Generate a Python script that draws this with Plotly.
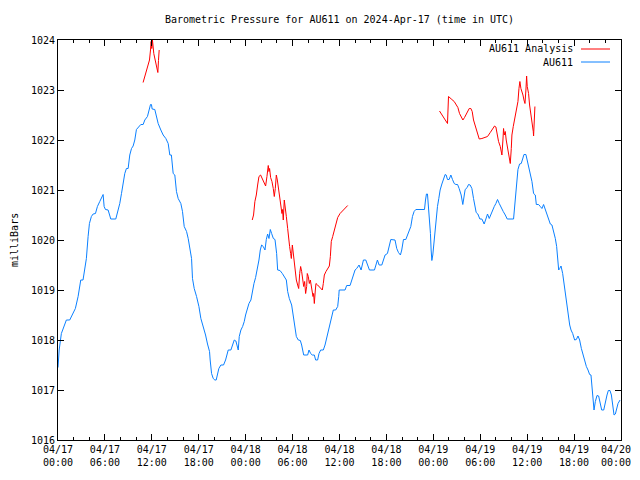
import plotly.graph_objects as go

# ---------------- data ----------------
# hours since 2024-04-17 00:00 UTC
au611_hours = [
    0.0, 0.15, 0.43, 0.86, 1.07, 1.5, 1.93, 2.22, 2.57, 2.91, 3.2, 3.42, 3.63, 3.85, 4.02, 4.27, 4.49, 4.79,
    5.04, 5.34, 5.56, 5.77, 5.9, 6.07, 6.41, 6.75, 7.39, 7.6, 7.9, 8.12, 8.33, 8.54, 8.75, 8.97, 9.18, 9.4,
    9.61, 9.82, 10.03, 10.33, 10.59, 10.89, 11.1, 11.44, 11.65, 11.83, 11.95, 12.04, 12.38, 12.6, 12.81,
    13.15, 13.45, 13.79, 14.09, 14.3, 14.5, 14.73, 14.94, 15.15, 15.37, 15.71, 15.92, 16.14, 16.44, 16.65,
    16.86, 17.08, 17.2, 17.42, 17.72, 18.02, 18.27, 18.57, 18.87, 19.12, 19.38, 19.46, 19.64, 19.85, 20.06,
    20.23, 20.41, 20.57, 20.83, 21.17, 21.43, 21.64, 21.77, 22.11, 22.28, 22.54, 22.75, 22.92, 23.05, 23.18,
    23.39, 23.61, 23.82, 23.99, 24.2, 24.42, 24.67, 24.84, 25.06, 25.27, 25.48, 25.7, 25.87, 26.04, 26.25,
    26.47, 26.64, 26.81, 26.98, 27.15, 27.32, 27.54, 27.75, 27.96, 28.09, 28.39, 28.69, 28.94, 29.2, 29.37,
    29.58, 29.88, 30.09, 30.31, 30.48, 30.73, 30.99, 31.16, 31.42, 31.93, 32.1, 32.31, 32.52, 32.78, 32.95,
    33.2, 33.38, 33.59, 33.93, 34.15, 34.36, 34.57, 34.79, 35.0, 35.21, 35.51, 35.77, 35.9, 35.96, 36.71,
    36.92, 37.35, 37.56, 37.77, 37.99, 38.2, 38.5, 38.76, 39.06, 39.36, 39.57, 39.83, 40.47, 40.64, 40.85,
    41.07, 41.41, 41.62, 41.83, 42.13, 42.35, 42.56, 43.1, 43.32, 43.54, 43.79, 43.96, 44.18, 44.48, 44.69,
    44.9, 45.12, 45.33, 45.54, 45.76, 46.87, 47.0, 47.12, 47.25, 47.38, 47.5, 47.63, 47.72, 47.81, 47.93,
    48.06, 48.23, 48.36, 48.53, 48.7, 48.87, 49.09, 49.3, 49.51, 49.64, 49.81, 50.02, 50.24, 50.45, 50.67,
    50.88, 51.1, 51.3, 51.56, 51.77, 51.9, 52.07, 52.33, 52.5, 52.71, 52.93, 53.14, 53.35, 53.48, 53.69,
    53.95, 54.21, 54.5, 54.72, 54.93, 55.15, 55.36, 55.57, 55.79, 56.0, 56.21, 56.43, 56.69, 56.94, 57.2,
    57.45, 58.26, 58.39, 58.47, 58.6, 58.69, 58.82, 59.03, 59.24, 59.42, 59.59, 59.84, 59.97, 60.18, 60.4,
    60.61, 60.82, 61.04, 61.17, 61.46, 61.68, 61.89, 62.1, 62.32, 62.53, 62.75, 62.96, 63.17, 63.39, 63.6,
    63.77, 63.9, 64.03, 64.16, 64.33, 64.54, 64.71, 64.89, 65.1, 65.27, 65.44, 65.61, 65.82, 66.07, 66.29,
    66.5, 66.71, 66.93, 67.14, 67.35, 67.57, 67.78, 67.99, 68.16, 68.29, 68.42, 68.55, 68.72, 68.93, 69.14,
    69.36, 69.53, 69.79, 70.0, 70.21, 70.38, 70.59, 70.77, 70.94, 71.11, 71.28, 71.45, 71.62, 71.88,
]
au611_mbar = [
    1017.45, 1017.8, 1018.13, 1018.33, 1018.4, 1018.4, 1018.53, 1018.63, 1018.87, 1019.2, 1019.2, 1019.4,
    1019.63, 1020.07, 1020.33, 1020.47, 1020.52, 1020.53, 1020.67, 1020.77, 1020.83, 1020.91, 1020.67,
    1020.61, 1020.6, 1020.42, 1020.42, 1020.53, 1020.73, 1020.93, 1021.13, 1021.33, 1021.43, 1021.43,
    1021.7, 1021.83, 1021.88, 1022.0, 1022.21, 1022.27, 1022.31, 1022.31, 1022.4, 1022.47, 1022.6, 1022.71,
    1022.71, 1022.62, 1022.61, 1022.47, 1022.33, 1022.2, 1022.1, 1022.03, 1021.93, 1021.7, 1021.7, 1021.33,
    1021.3, 1020.97, 1020.83, 1020.73, 1020.57, 1020.27, 1020.17, 1020.03, 1019.87, 1019.63, 1019.23,
    1019.03, 1018.87, 1018.67, 1018.43, 1018.27, 1018.1, 1017.92, 1017.77, 1017.6, 1017.33, 1017.23,
    1017.2, 1017.2, 1017.33, 1017.43, 1017.5, 1017.5, 1017.6, 1017.7, 1017.8, 1017.8, 1017.9, 1018.0,
    1017.98, 1017.9, 1017.8, 1018.07, 1018.2, 1018.27, 1018.37, 1018.5, 1018.63, 1018.73, 1018.8, 1018.97,
    1019.13, 1019.25, 1019.4, 1019.6, 1019.8, 1019.9, 1019.87, 1019.8, 1020.01, 1020.12, 1020.03, 1020.21,
    1020.13, 1020.03, 1020.01, 1019.73, 1019.4, 1019.39, 1019.33, 1019.27, 1019.2, 1018.97, 1018.83,
    1018.7, 1018.5, 1018.27, 1018.07, 1018.0, 1017.99, 1017.9, 1017.7, 1017.7, 1017.8, 1017.73, 1017.7,
    1017.7, 1017.6, 1017.6, 1017.73, 1017.8, 1017.8, 1017.9, 1018.03, 1018.2, 1018.33, 1018.47, 1018.6,
    1018.6, 1018.67, 1018.87, 1019.0, 1019.0, 1019.09, 1019.09, 1019.2, 1019.33, 1019.4, 1019.43, 1019.5,
    1019.4, 1019.6, 1019.6, 1019.5, 1019.4, 1019.4, 1019.5, 1019.6, 1019.5, 1019.5, 1019.6, 1019.7,
    1019.73, 1019.9, 1020.01, 1020.0, 1019.83, 1019.75, 1019.7, 1019.8, 1020.01, 1020.01, 1020.1, 1020.17,
    1020.27, 1020.47, 1020.57, 1020.61, 1020.61, 1020.8, 1020.92, 1020.92, 1020.7, 1020.43, 1020.13,
    1019.8, 1019.59, 1019.7, 1019.93, 1020.17, 1020.37, 1020.67, 1020.83, 1021.0, 1021.12, 1021.21,
    1021.31, 1021.3, 1021.21, 1021.21, 1021.3, 1021.21, 1021.13, 1021.11, 1021.11, 1021.03, 1020.9,
    1020.71, 1020.87, 1021.01, 1021.05, 1021.11, 1021.1, 1021.03, 1020.83, 1020.65, 1020.55, 1020.52,
    1020.42, 1020.42, 1020.32, 1020.42, 1020.52, 1020.43, 1020.52, 1020.59, 1020.67, 1020.73, 1020.81,
    1020.73, 1020.63, 1020.57, 1020.5, 1020.42, 1020.42, 1020.67, 1020.9, 1021.13, 1021.33, 1021.41,
    1021.52, 1021.53, 1021.62, 1021.71, 1021.71, 1021.62, 1021.5, 1021.35, 1021.17, 1020.93, 1020.9,
    1020.71, 1020.71, 1020.67, 1020.63, 1020.71, 1020.6, 1020.53, 1020.42, 1020.32, 1020.3, 1020.17,
    1020.03, 1019.87, 1019.6, 1019.4, 1019.43, 1019.48, 1019.33, 1019.13, 1018.93, 1018.73, 1018.53,
    1018.3, 1018.2, 1018.13, 1018.0, 1018.01, 1018.08, 1018.0, 1017.83, 1017.7, 1017.57, 1017.47, 1017.4,
    1017.31, 1017.3, 1017.0, 1016.73, 1016.6, 1016.77, 1016.89, 1016.88, 1016.7, 1016.6, 1016.6, 1016.77,
    1016.9, 1016.99, 1016.99, 1016.9, 1016.67, 1016.5, 1016.52, 1016.63, 1016.73, 1016.8,
]

# analysis series (None = gap between analysis runs)
analysis_hours = [
    10.88, 11.01, 11.18, 11.35, 11.53, 11.7, 11.83, 11.91, 11.99, 12.08, 12.25, 12.46, 12.64, 12.77, 12.85, 12.94,
    None,
    24.84, 25.01, 25.18, 25.36, 25.53, 25.7, 25.91, 26.12, 26.34, 26.55, 26.72, 26.89, 26.98, 27.06, 27.19,
    27.36, 27.53, 27.66, 27.79, 27.92, 28.05, 28.17, 28.34, 28.51, 28.64, 28.72, 28.81, 28.94, 29.07, 29.2,
    29.37, 29.5, 29.62, 29.75, 29.84, 29.97, 30.09, 30.22, 30.35, 30.48, 30.65, 30.78, 30.91, 31.03, 31.16,
    31.29, 31.42, 31.54, 31.67, 31.8, 31.88, 32.01, 32.14, 32.27, 32.44, 32.61, 32.69, 32.78, 32.91, 32.99,
    33.2, 33.46, 33.8, 33.93, 34.06, 34.27, 34.48, 34.7, 34.83, 34.95, 35.13, 35.34, 35.51, 35.77, 36.07,
    36.5, 37.05,
    None,
    48.79, 49.0, 49.3, 49.6, 49.81, 49.94, 50.15, 50.37, 50.67, 50.92, 51.14, 51.35, 51.56, 51.78, 51.99,
    52.2, 52.42, 52.59, 52.8, 52.97, 53.14, 53.35, 53.57, 53.87, 54.21, 54.64, 54.93, 55.28, 55.57, 55.83,
    56.0, 56.17, 56.34, 56.56, 56.77, 56.9, 56.98, 57.07, 57.2, 57.32, 57.45, 57.62, 57.75, 57.84, 57.97,
    58.05, 58.22, 58.39, 58.56, 58.69, 58.82, 58.95, 59.07, 59.2, 59.33, 59.46, 59.59, 59.72, 59.84, 59.93,
    60.01, 60.1, 60.18, 60.31, 60.44, 60.57, 60.69, 60.78, 60.82, 60.91, 60.99,
]
analysis_mbar = [
    1023.15, 1023.23, 1023.33, 1023.43, 1023.5, 1023.6, 1023.8, 1023.97, 1023.83, 1024.0, 1023.73, 1023.57,
    1023.47, 1023.35, 1023.59, 1023.8,
    None,
    1020.4, 1020.5, 1020.77, 1020.9, 1021.1, 1021.27, 1021.3, 1021.23, 1021.15, 1021.08, 1021.27, 1021.49,
    1021.37, 1021.43, 1021.25, 1021.17, 1021.03, 1020.87, 1021.03, 1021.3, 1021.2, 1021.07, 1020.93,
    1020.73, 1020.53, 1020.61, 1020.4, 1020.8, 1020.67, 1020.47, 1020.23, 1020.0, 1019.87, 1019.73,
    1019.63, 1019.9, 1019.73, 1019.57, 1019.33, 1019.2, 1019.1, 1019.03, 1019.33, 1019.47, 1019.37,
    1019.2, 1019.07, 1019.17, 1018.93, 1019.07, 1019.33, 1019.27, 1019.13, 1019.2, 1019.03, 1018.87,
    1018.93, 1018.73, 1019.0, 1019.13, 1019.1, 1019.05, 1019.0, 1019.13, 1019.3, 1019.37, 1019.43,
    1019.48, 1019.67, 1019.97, 1020.07, 1020.2, 1020.33, 1020.45, 1020.53, 1020.6, 1020.69,
    None,
    1022.58, 1022.53, 1022.45, 1022.39, 1022.33, 1022.87, 1022.83, 1022.81, 1022.77, 1022.71, 1022.65,
    1022.53, 1022.47, 1022.4, 1022.45, 1022.52, 1022.59, 1022.63, 1022.63, 1022.57, 1022.4, 1022.3,
    1022.17, 1022.02, 1022.03, 1022.05, 1022.07, 1022.15, 1022.23, 1022.28, 1022.26, 1022.1, 1021.97,
    1021.87, 1021.7, 1022.0, 1022.23, 1022.1, 1022.17, 1022.0, 1021.87, 1021.73, 1021.63, 1021.53,
    1021.83, 1022.1, 1022.27, 1022.4, 1022.53, 1022.6, 1022.77, 1023.03, 1023.17, 1023.03, 1022.97,
    1022.9, 1022.8, 1022.73, 1023.0, 1023.28, 1023.07, 1023.0, 1022.93, 1022.7, 1022.57, 1022.43,
    1022.33, 1022.17, 1022.08, 1022.4, 1022.67,
]

x_tick_hours = [0, 6, 12, 18, 24, 30, 36, 42, 48, 54, 60, 66, 72]
x_tick_labels = ["04/17<br>00:00", "04/17<br>06:00", "04/17<br>12:00", "04/17<br>18:00",
                 "04/18<br>00:00", "04/18<br>06:00", "04/18<br>12:00", "04/18<br>18:00",
                 "04/19<br>00:00", "04/19<br>06:00", "04/19<br>12:00", "04/19<br>18:00",
                 "04/20<br>00:00"]
y_ticks = [1016, 1017, 1018, 1019, 1020, 1021, 1022, 1023, 1024]

series_names = ["AU611 Analysis", "AU611"]
series_colors = ["#ff0000", "#0a80ff"]

FONT = "DejaVu Sans Mono"

fig = go.Figure()
fig.add_trace(go.Scatter(x=analysis_hours, y=analysis_mbar, mode="lines", name=series_names[0],
                         line=dict(color=series_colors[0], width=1), connectgaps=False,
                         showlegend=False))
fig.add_trace(go.Scatter(x=au611_hours, y=au611_mbar, mode="lines", name=series_names[1],
                         line=dict(color=series_colors[1], width=1), showlegend=False))

# The page body has an 8px default margin: size the figure so the plot area
# lands at page pixels x 58..621, y 40..440 and the page does not scroll.
OFF = 8
W, H = 640 - OFF, 480 - 2 * OFF
L, T = 58 - OFF, 40 - OFF
R = W - (621 - OFF)
B = H - (440 - OFF)
pw, ph = W - L - R, H - T - B
def px(xp):
    return (xp - OFF - L) / pw
def py(yp):
    return 1 - (yp - OFF - T) / ph

key_rows = [49, 62]
for name, col, yy in zip(series_names, series_colors, key_rows):
    fig.add_annotation(xref="paper", yref="paper", x=px(575), y=py(yy), text=name,
                       showarrow=False, xanchor="right", yanchor="middle",
                       font=dict(family=FONT, size=10, color="black"))
    fig.add_shape(type="line", xref="paper", yref="paper", x0=px(581), x1=px(610),
                  y0=py(yy), y1=py(yy), line=dict(color=col, width=1))

fig.add_annotation(xref="paper", yref="paper", x=px(14), y=0.5, text="milliBars",
                   textangle=-90, showarrow=False, xanchor="center", yanchor="middle",
                   font=dict(family=FONT, size=10, color="black"))

# last tick label drawn as an annotation kept just inside the visible page edge
shown_ticktext = x_tick_labels[:-1] + [""]
fig.add_annotation(xref="paper", yref="paper", x=px(632), y=py(443), text=x_tick_labels[-1],
                   showarrow=False, xanchor="right", yanchor="top", borderpad=0,
                   font=dict(family=FONT, size=10, color="black"))

fig.update_layout(
    width=W, height=H,
    margin=dict(l=L, r=R, t=T, b=B, pad=0, autoexpand=False),
    paper_bgcolor="white", plot_bgcolor="white",
    font=dict(family=FONT, size=10, color="black"),
    title=dict(text="Barometric Pressure for AU611 on 2024-Apr-17 (time in UTC)",
               x=0.5, xref="paper", xanchor="center", y=1 - (19 - OFF) / H, yanchor="middle",
               font=dict(family=FONT, size=10, color="black")),
    xaxis=dict(range=[0, 72], tickvals=x_tick_hours, ticktext=shown_ticktext, automargin=False,
               ticks="inside", ticklen=6, tickcolor="black", showgrid=False, zeroline=False,
               showline=True, linecolor="black", linewidth=1, mirror="ticks", tickangle=0,
               minor=dict(dtick=2, tick0=0, ticks="inside", ticklen=3, tickcolor="black", showgrid=False),
               tickfont=dict(family=FONT, size=10)),
    yaxis=dict(range=[1016, 1024], tickvals=y_ticks, ticktext=[str(v) for v in y_ticks], automargin=False,
               ticks="inside", ticklen=6, tickcolor="black", showgrid=False, zeroline=False,
               showline=True, linecolor="black", linewidth=1, mirror="ticks",
               tickfont=dict(family=FONT, size=10)),
)

fig.write_html("out.html")
